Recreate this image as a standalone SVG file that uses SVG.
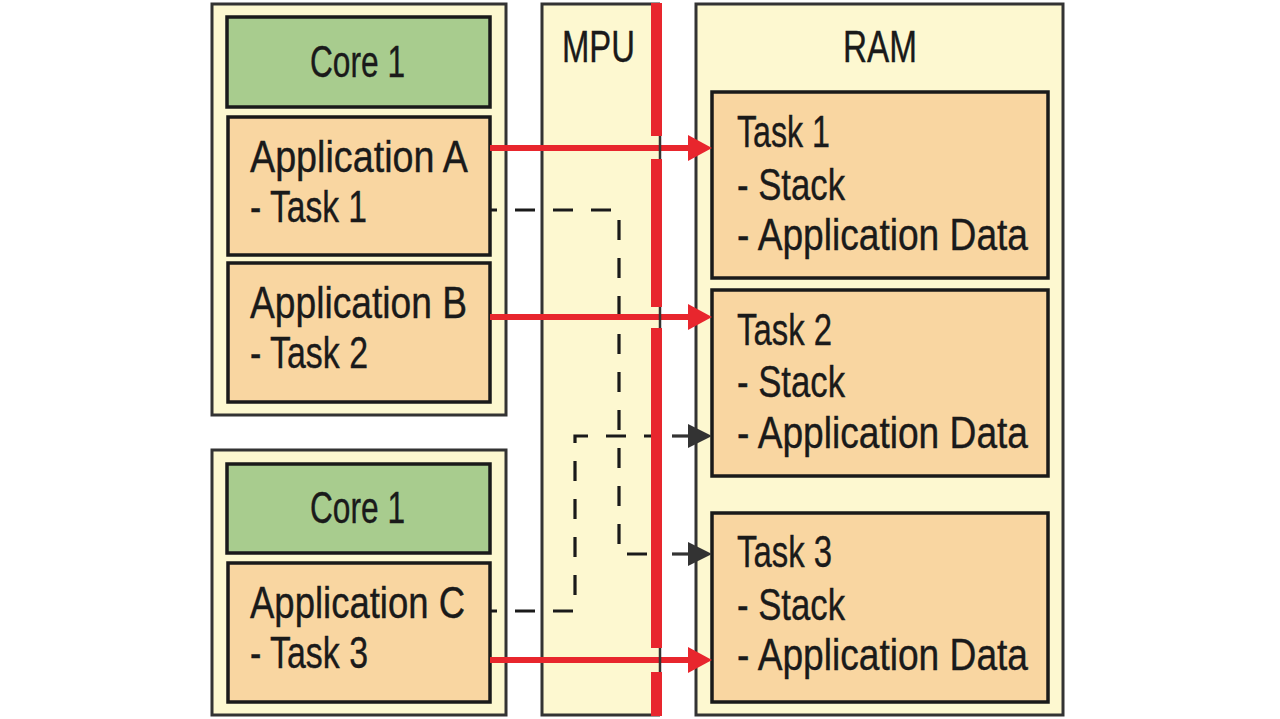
<svg xmlns="http://www.w3.org/2000/svg" width="1280" height="719" viewBox="0 0 1280 719">
<style>
.outer{fill:#FDF8D0;stroke:#333;stroke-width:3}
.core{fill:#A8CC8E;stroke:#1a1a1a;stroke-width:3.5}
.app{fill:#F9D6A1;stroke:#1a1a1a;stroke-width:3.5}
.t{font-family:"Liberation Sans",Arial,sans-serif;font-size:44px;fill:#1a1a1a;stroke:#1a1a1a;stroke-width:0.4}
.red{stroke:#E8262D;stroke-width:6;fill:none;marker-end:url(#ra)}
.dash{stroke:#1a1a1a;stroke-width:3.2;stroke-dasharray:20 18;fill:none}
.tail{stroke:#333;stroke-width:3.2;fill:none;marker-end:url(#da)}
.bar{fill:#E8262D}
</style>
<defs>
<marker id="ra" markerUnits="userSpaceOnUse" markerWidth="24" markerHeight="26" refX="0" refY="13" orient="auto" viewBox="0 0 24 26"><path d="M0,0 L24,13 L0,26 z" fill="#E8262D"/></marker>
<marker id="da" markerUnits="userSpaceOnUse" markerWidth="24" markerHeight="24" refX="0" refY="12" orient="auto" viewBox="0 0 24 24"><path d="M0,0 L24,12 L0,24 z" fill="#333"/></marker>
</defs>
<rect width="1280" height="719" fill="#fff"/>

<g id="cpu-top">
<rect class="outer" x="212" y="4" width="294" height="411"/>
</g>
<g id="core1-top">
<rect class="core" x="227" y="17" width="263" height="90"/>
<text class="t" x="310" y="77" textLength="95" lengthAdjust="spacingAndGlyphs">Core 1</text>
</g>
<g id="app-a">
<rect class="app" x="228" y="117" width="262" height="138"/>
<text class="t" x="250" y="172" textLength="218" lengthAdjust="spacingAndGlyphs">Application A</text>
<text class="t" x="250" y="222" textLength="117" lengthAdjust="spacingAndGlyphs">- Task 1</text>
</g>
<g id="app-b">
<rect class="app" x="228" y="263" width="262" height="139"/>
<text class="t" x="250" y="318" textLength="217" lengthAdjust="spacingAndGlyphs">Application B</text>
<text class="t" x="250" y="368" textLength="118" lengthAdjust="spacingAndGlyphs">- Task 2</text>
</g>

<g id="cpu-bottom">
<rect class="outer" x="212" y="450" width="294" height="265"/>
</g>
<g id="core1-bottom">
<rect class="core" x="227" y="464" width="263" height="89"/>
<text class="t" x="310" y="523" textLength="95" lengthAdjust="spacingAndGlyphs">Core 1</text>
</g>
<g id="app-c">
<rect class="app" x="228" y="563" width="262" height="139"/>
<text class="t" x="250" y="618" textLength="215" lengthAdjust="spacingAndGlyphs">Application C</text>
<text class="t" x="250" y="668" textLength="118" lengthAdjust="spacingAndGlyphs">- Task 3</text>
</g>

<g id="mpu">
<rect x="542" y="4" width="118" height="711" fill="#FDF8D0"/>
<path d="M660,4 H542 V715 H660" fill="none" stroke="#333" stroke-width="3"/>
<text class="t" x="562" y="62" textLength="73" lengthAdjust="spacingAndGlyphs">MPU</text>
</g>

<g id="ram">
<rect class="outer" x="696" y="4" width="367" height="711"/>
<text class="t" x="843" y="62" textLength="74" lengthAdjust="spacingAndGlyphs">RAM</text>
</g>
<g id="task1">
<rect class="app" x="712" y="92" width="336" height="186"/>
<text class="t" x="737" y="147" textLength="93" lengthAdjust="spacingAndGlyphs">Task 1</text>
<text class="t" x="737" y="200" textLength="108" lengthAdjust="spacingAndGlyphs">- Stack</text>
<text class="t" x="737" y="250" textLength="291" lengthAdjust="spacingAndGlyphs">- Application Data</text>
</g>
<g id="task2">
<rect class="app" x="712" y="290" width="336" height="186"/>
<text class="t" x="737" y="345" textLength="95" lengthAdjust="spacingAndGlyphs">Task 2</text>
<text class="t" x="737" y="397" textLength="108" lengthAdjust="spacingAndGlyphs">- Stack</text>
<text class="t" x="737" y="448" textLength="291" lengthAdjust="spacingAndGlyphs">- Application Data</text>
</g>
<g id="task3">
<rect class="app" x="712" y="513" width="336" height="189"/>
<text class="t" x="737" y="567" textLength="95" lengthAdjust="spacingAndGlyphs">Task 3</text>
<text class="t" x="737" y="620" textLength="108" lengthAdjust="spacingAndGlyphs">- Stack</text>
<text class="t" x="737" y="670" textLength="291" lengthAdjust="spacingAndGlyphs">- Application Data</text>
</g>

<g id="connectors">
<path class="dash" d="M490,210 H619 V554 H656" stroke-dashoffset="13"/>
<path class="tail" d="M672,554 H688"/>
<path class="dash" d="M490,611 H575 V436 H656" stroke-dashoffset="13"/>
<path class="tail" d="M672,436 H688"/>
<path class="red" d="M490,148 H688"/>
<path class="red" d="M490,317 H688"/>
<path class="red" d="M490,660 H688"/>
</g>

<g id="mpu-barrier">
<line x1="660" y1="4" x2="660" y2="715" stroke="#333" stroke-width="2.5"/>
<rect class="bar" x="651" y="3" width="11" height="133"/>
<rect class="bar" x="651" y="159" width="11" height="148"/>
<rect class="bar" x="651" y="328" width="11" height="320"/>
<rect class="bar" x="651" y="672" width="11" height="44"/>
</g>
</svg>
